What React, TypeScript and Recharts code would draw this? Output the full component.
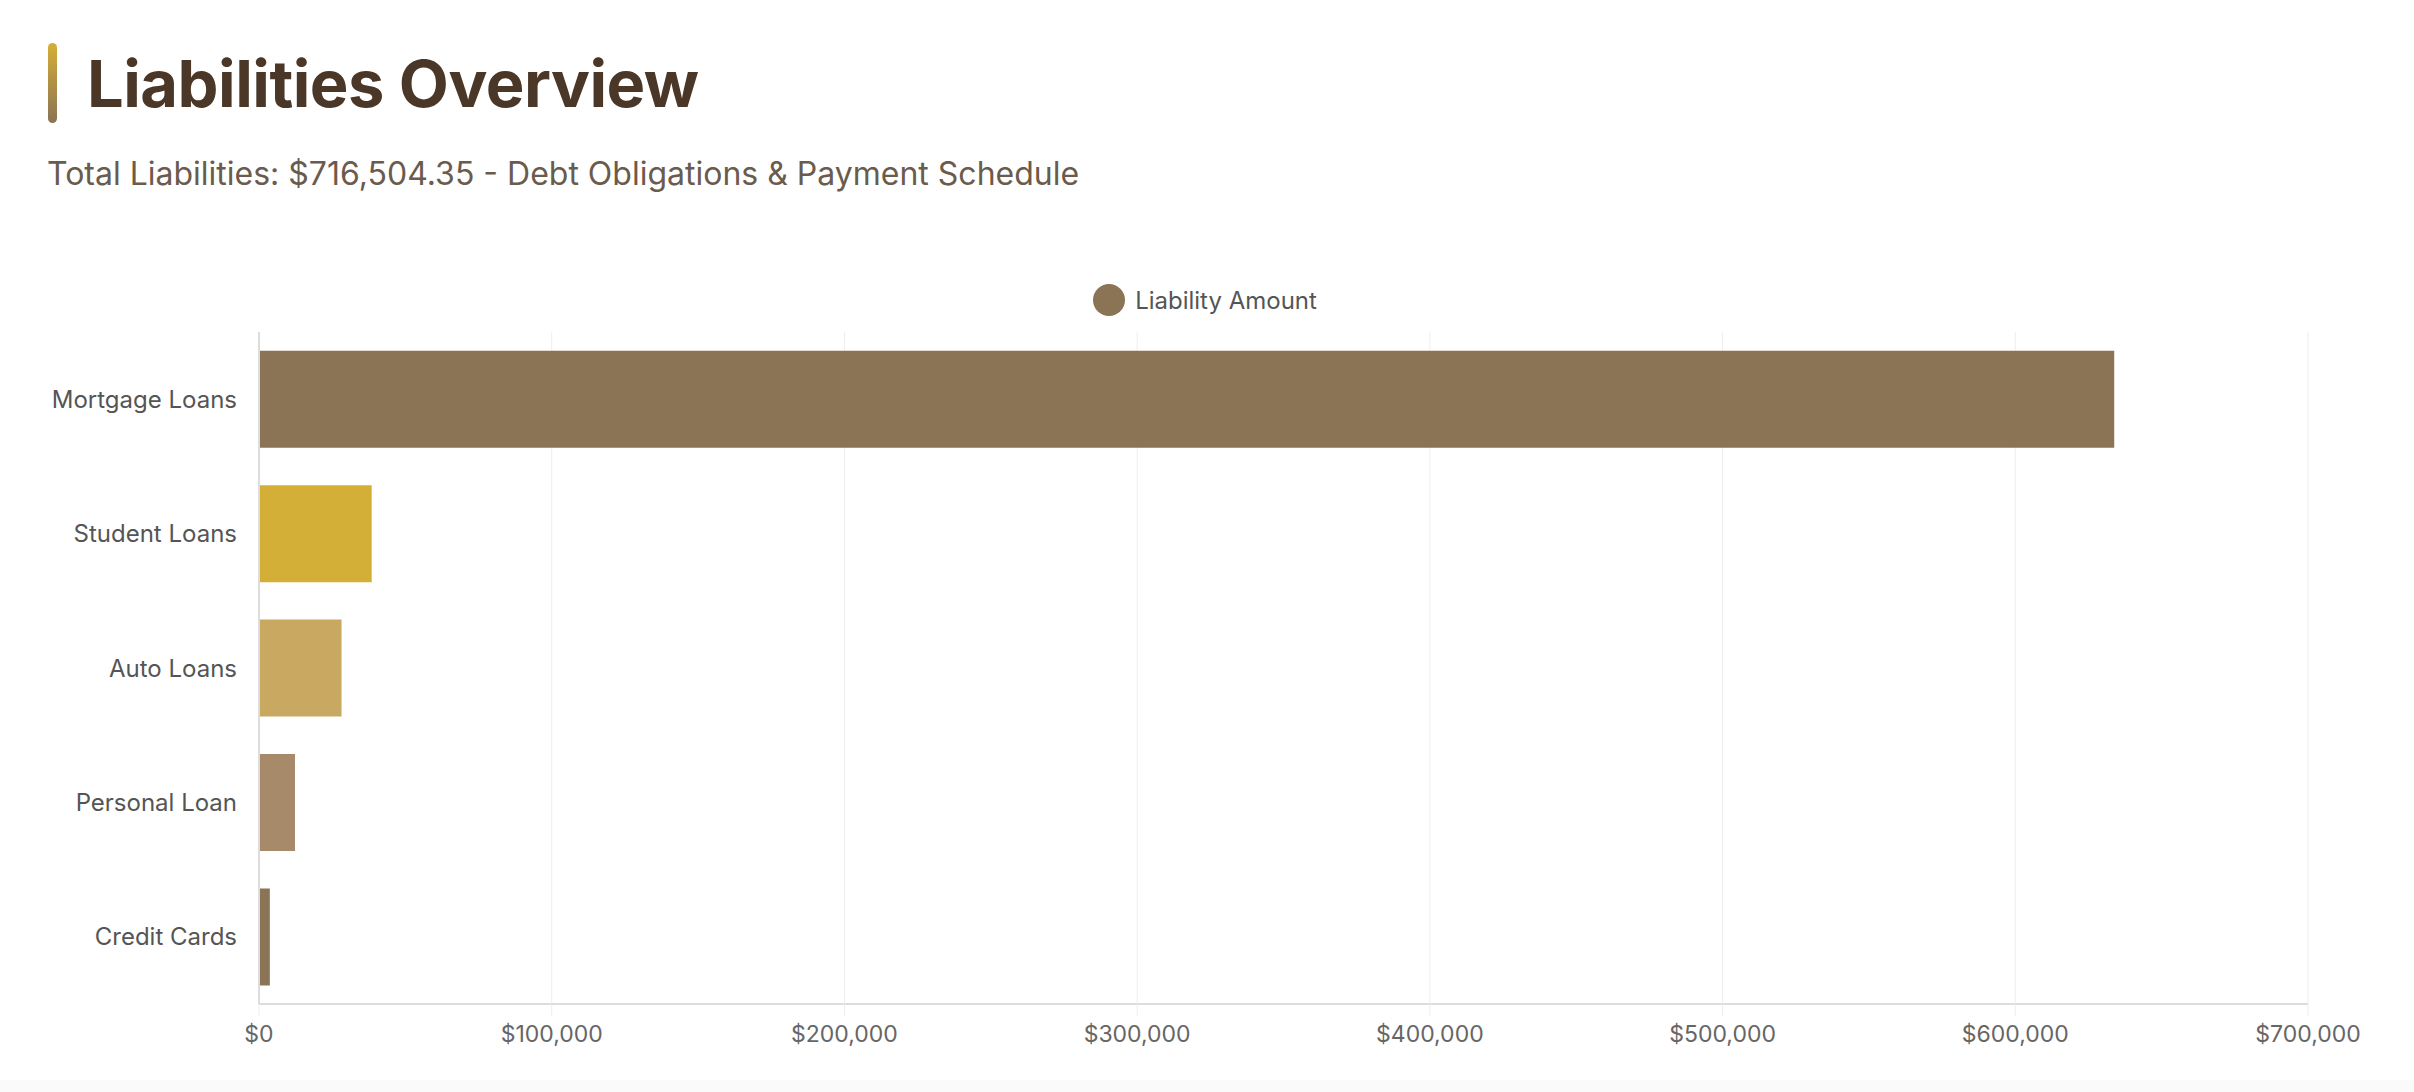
import React from "react";
import {
  BarChart,
  Bar,
  Cell,
  XAxis,
  YAxis,
  CartesianGrid,
  Legend,
} from "recharts";

const categories: string[] = [
  "Mortgage Loans",
  "Student Loans",
  "Auto Loans",
  "Personal Loan",
  "Credit Cards",
];
const amounts: number[] = [633800, 38500, 28200, 12300, 3704.35];
const barColors: string[] = ["#8B7355", "#D4AF37", "#C9A862", "#A68A6A", "#8B7355"];
const xTicks: number[] = [0, 100000, 200000, 300000, 400000, 500000, 600000, 700000];

const data = categories.map((name, i) => ({ name, amount: amounts[i] }));

const FONT = "Inter, 'Noto Sans', sans-serif";

const fmtMoney = (v: number) => "$" + v.toLocaleString("en-US");

const LegendContent = (props: any) => {
  const { payload = [] } = props;
  return (
    <div
      style={{
        height: 52,
        paddingBottom: 12,
        boxSizing: "border-box",
        display: "flex",
        justifyContent: "center",
        alignItems: "center",
        fontFamily: FONT,
      }}
    >
      {payload.map((entry: any) => (
        <div key={entry.value} style={{ display: "flex", alignItems: "center" }}>
          <span
            style={{
              width: 32,
              height: 32,
              borderRadius: "50%",
              background: entry.color,
              marginRight: 10,
              display: "inline-block",
            }}
          />
          <span style={{ fontSize: 24, color: "#555" }}>{entry.value}</span>
        </div>
      ))}
    </div>
  );
};

const App: React.FC = () => {
  return (
    <div
      style={{
        position: "absolute",
        left: 0,
        top: 0,
        width: 2414,
        height: 1092,
        background: "#fff",
        fontFamily: FONT,
        overflow: "hidden",
      }}
    >
      {/* accent bar next to title */}
      <div
        style={{
          position: "absolute",
          left: 48,
          top: 43,
          width: 9,
          height: 80,
          borderRadius: 5,
          background: "linear-gradient(to bottom, #D4AF37, #8B7355)",
        }}
      />
      <div
        style={{
          position: "absolute",
          left: 87,
          top: 51,
          fontSize: 65,
          lineHeight: "66px",
          fontWeight: 700,
          color: "#4A3728",
          letterSpacing: -0.5,
          whiteSpace: "nowrap",
        }}
      >
        Liabilities Overview
      </div>
      <div
        style={{
          position: "absolute",
          left: 47,
          top: 158,
          fontSize: 32,
          lineHeight: "32px",
          color: "#6B5B4D",
          whiteSpace: "nowrap",
        }}
      >
        Total Liabilities: $716,504.35 - Debt Obligations &amp; Payment Schedule
      </div>

      <div style={{ position: "absolute", left: 48, top: 280 }}>
        <BarChart
          width={2314}
          height={800}
          data={data}
          layout="vertical"
          margin={{ top: 0, right: 54, bottom: 16, left: 0 }}
          barCategoryGap="14%"
        >
          <CartesianGrid horizontal={false} stroke="#eeeeee" />
          <XAxis
            type="number"
            domain={[0, 700000]}
            ticks={xTicks}
            interval={0}
            tickFormatter={fmtMoney}
            axisLine={{ stroke: "#dddddd", strokeWidth: 2 }}
            tickLine={{ stroke: "#eeeeee" }}
            tickSize={12}
            tickMargin={10}
            height={60}
            tick={{ fill: "#666", fontSize: 23, fontFamily: FONT }}
          />
          <YAxis
            type="category"
            dataKey="name"
            width={211}
            axisLine={{ stroke: "#dddddd", strokeWidth: 2 }}
            tickLine={false}
            tickSize={12}
            tickMargin={10}
            tick={{ fill: "#555", fontSize: 24, fontFamily: FONT }}
          />
          <Legend
            verticalAlign="top"
            align="center"
            content={<LegendContent />}
            wrapperStyle={{ left: 0, width: 2314 }}
          />
          <Bar
            dataKey="amount"
            name="Liability Amount"
            fill="#8B7355"
            isAnimationActive={false}
          >
            {data.map((d, i) => (
              <Cell key={d.name} fill={barColors[i]} />
            ))}
          </Bar>
        </BarChart>
      </div>

      <div
        style={{
          position: "absolute",
          left: 0,
          top: 1080,
          width: 2414,
          height: 12,
          background: "#fafafa",
        }}
      />
    </div>
  );
};

export default App;
